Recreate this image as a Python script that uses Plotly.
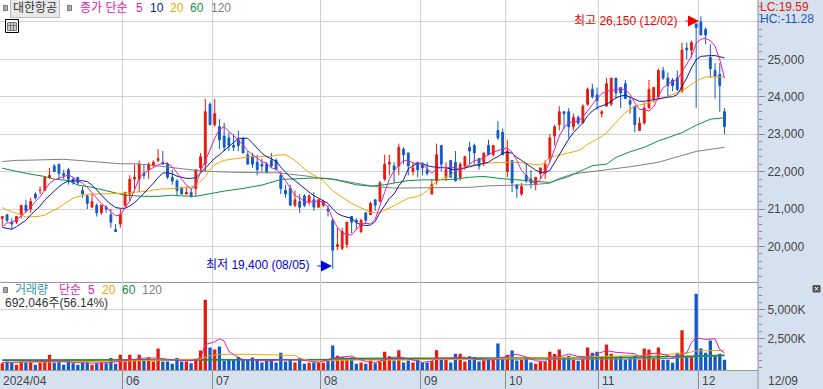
import plotly.graph_objects as go

W, H = 823, 389
RED, BLUE = "#e8190a", "#1259c8"
C5, C10, C20, C60, C120 = "#e020b0", "#101a9c", "#f0a800", "#109040", "#808080"
FONT = "Liberation Sans, Noto Sans CJK KR, sans-serif"

open_ = [20750,20850,20650,20650,20850,21100,21000,21400,21500,21500,21850,22150,22200,21950,22050,21800,21850,21500,21350,21050,
 21100,20900,21050,20850,20450,20600,21100,21400,21800,21800,21950,22050,22150,22300,22250,22200,21850,21750,21550,21400,
 21450,21550,22100,22200,23800,23250,23200,22950,22900,22700,22850,22900,22450,22400,22250,22200,22200,22300,22300,21900,
 21500,21550,21100,21200,21350,21200,21250,21050,21100,21000,20700,20000,19950,20050,20800,20700,20400,20900,20850,21250,
 21200,21800,22200,22150,22150,22600,22500,22000,22250,22200,22050,21400,21750,22700,21850,22300,22250,21850,22150,22650,
 22700,22350,22250,22700,22450,23100,23050,22000,22300,21650,21400,21900,21800,21650,21950,21950,22350,22950,23250,23600,
 23600,23200,23450,23300,23800,24200,24050,23550,23750,23800,24500,24250,24350,23900,23750,23100,23300,23700,23950,24000,
 24700,24500,24450,24500,24150,25300,25250,25950,26000,25800,25050,24700,24600,23600]
high = [20800,20850,20750,20800,21100,21250,21300,21450,21600,21850,22100,22200,22200,22050,22100,21850,21850,21600,21400,21400,
 21150,21100,21100,21000,20600,21000,21450,21900,22200,22300,22200,22250,22300,22600,22550,22250,22050,21800,21600,21600,
 21550,22050,22500,23950,23850,23950,23400,23300,23050,23000,23100,22900,22550,22500,22450,22350,22250,22500,22350,22000,
 21650,21650,21500,21400,21400,21400,21450,21250,21250,21100,20750,20500,20500,20650,20800,20750,20750,20900,21200,21250,
 21750,22450,22450,22250,22750,22650,22500,22250,22250,22250,22250,21800,22750,22700,22250,22300,22550,22250,22400,22800,
 22750,22350,22500,22850,22700,23350,23150,22850,22300,21650,21700,22200,22050,21850,22100,22300,23000,23250,23750,23600,
 23700,23550,23500,23800,24250,24350,24250,23650,24500,24500,24500,24250,24450,24000,23750,23450,23850,24450,24250,24750,
 24800,24650,24500,24700,25450,25450,25500,25950,26150,25850,25400,24900,24900,23700]
low = [20550,20650,20450,20600,20750,20900,20900,21250,21400,21500,21800,22000,21800,21800,21650,21650,21650,21300,21000,21050,
 20800,20850,20900,20500,20400,20500,21050,21200,21500,21450,21800,21800,22150,22250,22200,21800,21650,21350,21400,21400,
 21300,21350,22000,22000,23250,23200,22600,22550,22550,22550,22550,22500,22200,22100,21900,22000,21950,22100,22050,21400,
 21300,21100,21050,20900,21050,21100,20950,21050,21050,20800,19400,19900,19900,19950,20350,20450,20350,20600,20850,20950,
 21200,21750,21900,21700,21900,22200,21900,21900,21850,21900,21900,21400,21650,22000,21750,21850,21750,21750,22050,22200,
 22200,22050,22150,22450,22400,22850,22450,21850,21450,21300,21350,21700,21550,21500,21800,21800,22250,22700,23100,23150,
 22900,23100,23250,23300,23750,23950,23650,23450,23750,23750,23950,23700,23950,23550,23050,23100,23250,23700,23850,23950,
 24450,24000,24150,24150,24100,25000,25050,23700,25650,25400,24500,23950,23600,23000]
close = [20800,20700,20600,20800,21100,20950,21200,21300,21500,21850,21900,22000,21950,21900,21800,21700,21700,21400,21150,21200,
 20900,21100,21000,20650,20400,20850,21450,21800,21850,22200,21900,22200,22250,22350,22200,21850,21750,21500,21400,21450,
 21350,22050,22400,23600,23250,23550,22850,22650,22700,22650,22700,22500,22200,22200,22050,22150,22000,22150,22050,21550,
 21400,21100,21250,21050,21100,21350,21050,21250,21200,20950,19900,20050,20400,20650,20650,20650,20700,20700,21150,21100,
 21700,22200,22250,22050,22650,22450,22150,22100,22050,22100,21950,21650,22450,22200,22050,21850,21750,22200,22400,22550,
 22500,22150,22500,22450,22700,22900,22450,22550,21700,21550,21600,21750,21700,21850,22100,22200,22900,23200,23600,23550,
 23200,23450,23300,23750,24200,24000,23900,23600,24350,24500,24100,24100,23950,23800,23250,23300,23700,24200,24250,24700,
 24500,24300,24300,24200,25250,25250,25450,25850,25650,25650,24750,24550,24300,23200]
volume_k = [407,552,465,262,552,465,494,262,465,552,1134,465,552,262,756,407,262,465,465,262,
 407,465,407,843,349,1134,552,1134,756,1134,698,901,552,1657,552,552,349,843,552,552,
 407,698,1483,5843,1744,1570,1831,610,756,756,930,756,756,901,756,465,610,698,465,1308,
 552,756,465,872,349,436,465,436,436,698,1919,1047,930,698,901,349,465,349,640,407,
 552,1395,988,640,1512,465,640,465,756,465,465,581,1512,698,698,465,1221,1221,552,988,
 930,552,640,698,698,2093,814,1134,1483,640,669,930,465,349,552,552,1395,1192,1570,930,
 1047,698,610,785,1744,1308,1395,843,2006,1221,930,988,698,843,1047,698,1657,1570,843,1744,
 698,698,436,1308,3227,1047,930,6366,1657,1308,2355,1047,1221,692]
ma5 = [20530,20630,20630,20720,20810,20930,21040,21200,21330,21510,21690,21780,21820,21880,21910,21850,21780,21690,21580,21420,
 21290,21150,21040,20930,20820,20840,21020,21220,21510,21820,21960,22030,22120,22180,22220,22220,22130,21960,21780,21640,
 21530,21640,22000,22270,22580,22890,23130,23200,23070,22960,22850,22710,22560,22450,22360,22270,22220,22100,22070,21940,
 21760,21560,21360,21300,21200,21180,21200,21220,21180,21050,20730,20510,20370,20310,20310,20460,20600,20620,20600,20730,
 21090,21450,21800,22030,22160,22300,22300,22230,22220,22210,22070,21960,22070,22120,22100,22120,22100,22050,22100,22210,
 22300,22310,22380,22470,22520,22560,22610,22630,22520,22300,22030,21900,21760,21670,21800,22000,22260,22600,22950,23170,
 23320,23320,23350,23460,23610,23790,23960,24080,24150,24170,24190,24210,24190,24060,23840,23660,23660,23620,23730,24020,
 24240,24330,24420,24460,24680,24860,25080,25430,25540,25560,25500,25350,24990,24500]
ma10 = [20510,20480,20460,20530,20620,20700,20840,20970,21080,21240,21370,21480,21600,21690,21750,21760,21760,21760,21730,21640,
 21510,21370,21240,21130,21040,21020,21020,21080,21170,21290,21420,21550,21690,21840,21960,21970,21940,21880,21850,21820,
 21820,21840,21960,22090,22220,22360,22450,22560,22670,22780,22890,22890,22890,22760,22630,22490,22400,22340,22280,22120,
 21980,21850,21760,21650,21550,21450,21360,21290,21220,21150,21000,20880,20820,20780,20750,20640,20580,20560,20570,20670,
 20910,21090,21290,21400,21620,21780,22070,22160,22220,22220,22160,22130,22120,22100,22100,22070,22040,22070,22100,22120,
 22160,22190,22210,22250,22340,22400,22490,22520,22490,22380,22300,22210,22130,22040,21980,21980,22030,22250,22430,22690,
 22870,23040,23180,23310,23490,23620,23710,23750,23800,23880,23970,24020,24040,23990,23930,23880,23880,23900,23930,23960,
 23960,23990,24000,24060,24280,24500,24770,24990,25080,25100,25100,25100,25080,25040]
ma20 = [21040,20970,20930,20880,20840,20790,20790,20790,20810,20840,20900,20970,21040,21130,21220,21290,21330,21370,21390,21400,
 21400,21420,21420,21420,21420,21420,21420,21440,21450,21450,21460,21480,21510,21530,21540,21540,21550,21550,21560,21580,
 21590,21620,21740,21870,22050,22180,22250,22300,22320,22340,22360,22360,22390,22400,22400,22400,22420,22410,22440,22450,
 22450,22380,22300,22190,22070,21980,21910,21850,21760,21620,21490,21400,21310,21220,21150,21090,21030,20960,20910,20900,
 20910,20960,21030,21090,21160,21240,21290,21310,21340,21400,21490,21620,21730,21800,21870,21890,22030,22070,22120,22160,
 22190,22210,22210,22230,22240,22250,22250,22250,22250,22250,22240,22210,22200,22190,22180,22250,22380,22410,22440,22470,
 22500,22530,22560,22630,22730,22800,22870,22940,23040,23180,23310,23440,23580,23660,23750,23780,23800,23840,23880,23930,
 23970,24020,24060,24110,24150,24240,24330,24420,24480,24530,24530,24530,24530,24530]
ma60_x = [0,2,4,7,9,11,14,16,19,22,24,26,30,33,36,38,41,44,47,51,55,59,61,64,66,70,73,75,78,81,86,89,93,96,99,102,106,109,112,116,120,122,125,128,130,133,136,139,142,144,147,150,153]
ma60 = [22090,22045,21980,21910,21870,21800,21760,21640,21580,21490,21420,21370,21340,21340,21370,21350,21340,21420,21480,21550,21640,21790,21800,21810,21830,21800,21710,21650,21610,21650,21760,21780,21780,21800,21850,21870,21810,21780,21740,21710,21870,21980,22160,22200,22380,22530,22650,22820,22960,23040,23240,23400,23440]
ma120_x = [0,3,7,10,13,16,19,22,25,28,31,33,37,40,42,45,48,50,55,58,64,66,70,73,76,79,83,88,90,95,99,103,107,112,116,118,121,127,133,139,144,147,153]
ma120 = [22270,22300,22310,22330,22330,22300,22280,22240,22210,22210,22180,22150,22090,22040,22020,22000,22000,21980,21970,21970,21890,21850,21800,21730,21650,21600,21560,21560,21560,21560,21580,21620,21630,21650,21690,21820,21940,22030,22130,22250,22420,22540,22650]

vma5_x = [0,4,8,12,15,19,23,27,30,33,36,40,42,43,45,46,47,48,49,51,53,55,57,59,61,63,65,67,69,71,72,74,75,77,79,81,83,85,87,89,91,92,95,97,100,102,104,105,106,108,109,111,113,115,116,118,120,122,124,128,130,134,135,137,139,142,145,146,147,149,151,152,153]
vma5 = [465,494,552,581,465,407,465,698,843,843,698,610,843,2006,2238,2500,2297,1424,1134,698,698,610,610,698,698,698,581,465,698,901,930,1017,843,523,465,698,930,872,640,465,581,843,843,930,756,669,698,872,901,1134,1163,930,610,552,930,930,1192,988,930,1483,1337,1221,930,1221,1279,930,1279,2151,2587,2442,2500,1570,1279]
vma20_x = [0,13,26,38,42,44,46,52,58,62,63,66,70,74,85,92,102,105,108,115,121,133,140,145,147,153]
vma20 = [465,523,581,727,756,1047,1163,1163,1075,1075,814,552,640,669,669,756,698,814,843,843,901,1047,1134,1279,1453,1512]
vma60_x = [0,30,60,69,70,102,120,137,142,146,153]
vma60 = [660,650,680,700,814,814,870,930,930,988,1075]
vma120_x = [0,60,100,130,142,148,153]
vma120 = [680,700,700,756,815,1000,1047]

price_ticks = [20000,21000,22000,23000,24000,25000,26000]
price_labels = ["20,000","21,000","22,000","23,000","24,000","25,000",""]
vol_ticks = [2500,5000]
vol_labels = ["2,500K","5,000K"]
month_pos = [25.46,44.5,67.4,88.6,106.5,126.4,147.5]
month_labels = ["06","07","08","09","10","11","12"]

PLOT_R = 758
n = len(close)
idx = list(range(n))
X0 = (0 - 2.33) / 4.72
X1 = (PLOT_R - 2.33) / 4.72
P_RANGE = [19064, 26586]
V_MIN = -183
V_RANGE = [V_MIN, 7420]

def px(x): return x / W
def py(y): return 1 - y / H

fig = go.Figure()
fig.add_trace(go.Candlestick(x=idx, open=open_, high=high, low=low, close=close, whiskerwidth=0,
    increasing=dict(line=dict(color=RED, width=1), fillcolor=RED),
    decreasing=dict(line=dict(color=BLUE, width=1), fillcolor=BLUE),
    xaxis="x", yaxis="y", hoverinfo="skip"))
fig.add_trace(go.Scatter(x=ma120_x, y=ma120, mode="lines", line=dict(color=C120, width=1), xaxis="x", yaxis="y"))
fig.add_trace(go.Scatter(x=ma60_x, y=ma60, mode="lines", line=dict(color=C60, width=1), xaxis="x", yaxis="y"))
fig.add_trace(go.Scatter(x=idx, y=ma20, mode="lines", line=dict(color=C20, width=1), xaxis="x", yaxis="y"))
fig.add_trace(go.Scatter(x=idx, y=ma10, mode="lines", line=dict(color=C10, width=1), xaxis="x", yaxis="y"))
fig.add_trace(go.Scatter(x=idx, y=ma5, mode="lines", line=dict(color=C5, width=1), xaxis="x", yaxis="y"))

bar_colors = [RED if c >= o else BLUE for o, c in zip(open_, close)]
fig.add_trace(go.Bar(x=idx, y=[v - V_MIN for v in volume_k], base=V_MIN, width=0.7,
    marker=dict(color=bar_colors, line=dict(width=0)), xaxis="x2", yaxis="y2"))
fig.add_trace(go.Scatter(x=vma120_x, y=vma120, mode="lines", line=dict(color=C120, width=1.3), xaxis="x2", yaxis="y2"))
fig.add_trace(go.Scatter(x=vma60_x, y=vma60, mode="lines", line=dict(color=C60, width=1.5), xaxis="x2", yaxis="y2"))
fig.add_trace(go.Scatter(x=vma20_x, y=vma20, mode="lines", line=dict(color=C20, width=1), xaxis="x2", yaxis="y2"))
fig.add_trace(go.Scatter(x=vma5_x, y=vma5, mode="lines", line=dict(color=C5, width=1), xaxis="x2", yaxis="y2"))

def text(x, y, s, color="#444444", size=12, anchor="left", pad=0, **kw):
    return dict(xref="paper", yref="paper", x=px(x), y=py(y), text=s, showarrow=False, xanchor=anchor,
                yanchor="middle", font=dict(family=FONT, size=size, color=color), borderpad=pad, **kw)

ann = [
    text(10, 8, "대한항공", "#333333", pad=2, bgcolor="#e8e8e8", bordercolor="#bcbcbc", borderwidth=1),
    text(79, 8, "종가 단순", C5), text(135, 8, "5", C5), text(149, 8, "10", C10), text(169, 8, "20", C20),
    text(189, 8, "60", C60), text(210, 8, "120", C120),
    text(14, 290, "거래량", "#2f9a9a"), text(58, 290, "단순", C5), text(87, 290, "5", C5), text(101, 290, "20", C20),
    text(121, 290, "60", C60), text(141, 290, "120", C120),
    text(4, 303, "692,046주(56.14%)", "#333333"),
    text(759, 7, "LC:19.59", "#e8190a"), text(759, 19, "HC:-11.28", "#1259c8"),
    text(573, 21, "최고 26,150 (12/02)", "#f00000"),
    text(205, 265, "최저 19,400 (08/05)", "#0000e0"),
    text(2, 381, "2024/04"), text(767, 381, "12/09"),
]
for pos, lab in zip(month_pos, month_labels):
    ann.append(dict(xref="x2", yref="paper", x=pos, y=py(381), text=lab, showarrow=False, xanchor="left", xshift=1.5,
                    yanchor="middle", font=dict(family=FONT, size=12, color="#444444")))
# arrows to the high and low
for x0, x1, yy, col in [(684, 699, 21, "#f00000"), (316, 332, 266, "#0000e0")]:
    ann.append(dict(xref="paper", yref="paper", x=px(x1), y=py(yy), ax=x0 - x1, ay=0, axref="pixel", ayref="pixel",
                    text="", showarrow=True, arrowhead=2, arrowsize=2.2, arrowwidth=1, arrowcolor=col))

def rect(x0, y0, x1, y1, fill=None, line="#888888", lw=1):
    return dict(type="rect", xref="paper", yref="paper", x0=px(x0), y0=py(y0), x1=px(x1), y1=py(y1),
                fillcolor=fill if fill else "rgba(0,0,0,0)", line=dict(color=line, width=lw), layer="above")
def seg(x0, y0, x1, y1, col, lw=1):
    return dict(type="line", xref="paper", yref="paper", x0=px(x0), y0=py(y0), x1=px(x1), y1=py(y1),
                line=dict(color=col, width=lw), layer="above")

shapes = [
    rect(3.5, 5.5, 7.5, 10.5, "#aaaaaa", "#777777"), rect(67.5, 5.5, 71.5, 10.5, "#aaaaaa", "#777777"),
    rect(3.5, 287.5, 7.5, 292.5, "#aaaaaa", "#777777"),
    rect(5.5, 19.5, 18.5, 32.5, "#ffffff", "#000000"), rect(7.5, 22.5, 16.5, 30.5, "#cccccc", "#777777"),
    seg(10.5, 22, 10.5, 30, "#777777"), seg(13.5, 22, 13.5, 30, "#777777"), seg(7, 25.5, 16, 25.5, "#777777"),
    rect(813, 285.5, 820, 292, "#555555", "#555555"), seg(815, 287, 818, 290.5, "#ffffff"), seg(815, 290.5, 818, 287, "#ffffff"),
    seg(PLOT_R, 0, PLOT_R, H, "#8c8c8c", 1),
]

GRID = "#d2d2d2"
fig.update_layout(
    width=W, height=H, margin=dict(l=0, r=0, t=0, b=0), showlegend=False,
    paper_bgcolor="#d6e1f0", plot_bgcolor="#ffffff", boxgap=0.45,
    font=dict(family=FONT, size=12, color="#444444"),
    annotations=ann, shapes=shapes, hovermode=False,
    xaxis=dict(domain=[0, px(PLOT_R)], range=[X0, X1], anchor="y", rangeslider=dict(visible=False),
               tickmode="array", tickvals=month_pos, showticklabels=False, ticks="", showgrid=True, gridcolor=GRID, gridwidth=1,
               showline=True, linecolor="#9a9a9a", linewidth=1, zeroline=False),
    yaxis=dict(domain=[py(281.5), 1], range=P_RANGE, side="right", anchor="x", tickmode="array", tickvals=price_ticks, ticktext=price_labels,
               showgrid=True, gridcolor=GRID, gridwidth=1, ticks="outside", ticklen=6, tickcolor="#888888", zeroline=False, showline=False,
               tickfont=dict(family=FONT, size=12, color="#444444"),
               minor=dict(dtick=200, tick0=0, ticks="outside", ticklen=3, tickcolor="#888888", showgrid=False)),
    xaxis2=dict(domain=[0, px(PLOT_R)], range=[X0, X1], anchor="y2", tickmode="array", tickvals=month_pos, showticklabels=False,
                ticks="outside", ticklen=19, tickcolor="#8c8c8c", showgrid=True, gridcolor=GRID, gridwidth=1,
                showline=True, linecolor="#9a9a9a", linewidth=1, zeroline=False),
    yaxis2=dict(domain=[py(370), py(281.5)], range=V_RANGE, side="right", anchor="x2", tickmode="array", tickvals=vol_ticks, ticktext=vol_labels,
                showgrid=True, gridcolor=GRID, gridwidth=1, ticks="outside", ticklen=6, tickcolor="#888888", zeroline=False, showline=False,
                tickfont=dict(family=FONT, size=12, color="#444444"),
                minor=dict(dtick=625, tick0=0, ticks="outside", ticklen=3, tickcolor="#888888", showgrid=False)),
)
assert len(open_) == len(high) == len(low) == len(close) == len(volume_k) == len(ma5) == len(ma10) == len(ma20), (len(open_),len(high),len(low),len(close),len(volume_k),len(ma5),len(ma10),len(ma20))
assert len(ma60_x) == len(ma60) and len(ma120_x) == len(ma120) and len(vma5_x) == len(vma5) and len(vma20_x) == len(vma20)
fig.write_html("out.html", config=dict(displayModeBar=False),
               post_script="document.body.style.margin='0';document.body.style.overflow='hidden';document.documentElement.style.overflow='hidden';")
